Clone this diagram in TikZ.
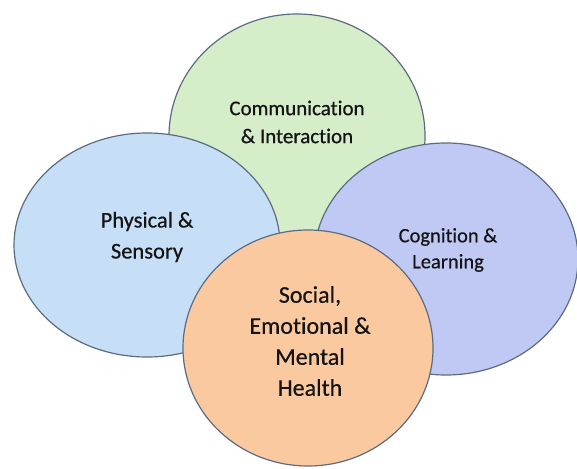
\documentclass[tikz,border=0pt]{standalone}
\usepackage{fontspec}
\setmainfont{Carlito}[Ligatures=NoCommon, FakeBold=0.5]
\usetikzlibrary{shapes.geometric}
\definecolor{edgecol}{RGB}{92,108,128}
\definecolor{greenfill}{RGB}{214,237,202}
\definecolor{bluefill}{RGB}{199,223,246}
\definecolor{purplefill}{RGB}{191,201,244}
\definecolor{orangefill}{RGB}{251,201,160}
\definecolor{txt}{RGB}{20,20,20}
\tikzset{
  blob/.style={ellipse, draw=edgecol, line width=1.2pt, inner sep=0pt},
  lbl/.style={align=center, text=txt, inner sep=0pt}
}
\begin{document}
\begin{tikzpicture}[x=1pt,y=-1pt]
\useasboundingbox (0,0) rectangle (577,468);
\node[blob, fill=greenfill, minimum width=256pt, minimum height=244pt] (comm) at (297,136) {};
\node[blob, fill=bluefill, minimum width=266pt, minimum height=224pt] (phys) at (147,245) {};
\node[blob, fill=purplefill, minimum width=264pt, minimum height=232pt] (cogn) at (446,259) {};
\node[blob, fill=orangefill, minimum width=250pt, minimum height=236pt] (soc) at (308,348) {};
\node[lbl, font=\fontsize{21}{28}\selectfont] (commtext) at (297,122) {Communication\\\& Interaction};
\node[lbl, font=\fontsize{22.5}{31}\selectfont] (phystext) at (147,237) {Physical \&\\Sensory};
\node[lbl, font=\fontsize{20.5}{26}\selectfont] (cogntext) at (448,250) {Cognition \&\\Learning};
\node[lbl, font=\fontsize{24}{31}\selectfont] (soctext) at (310,341) {Social,\\Emotional \&\\Mental\\Health};
\end{tikzpicture}
\end{document}
